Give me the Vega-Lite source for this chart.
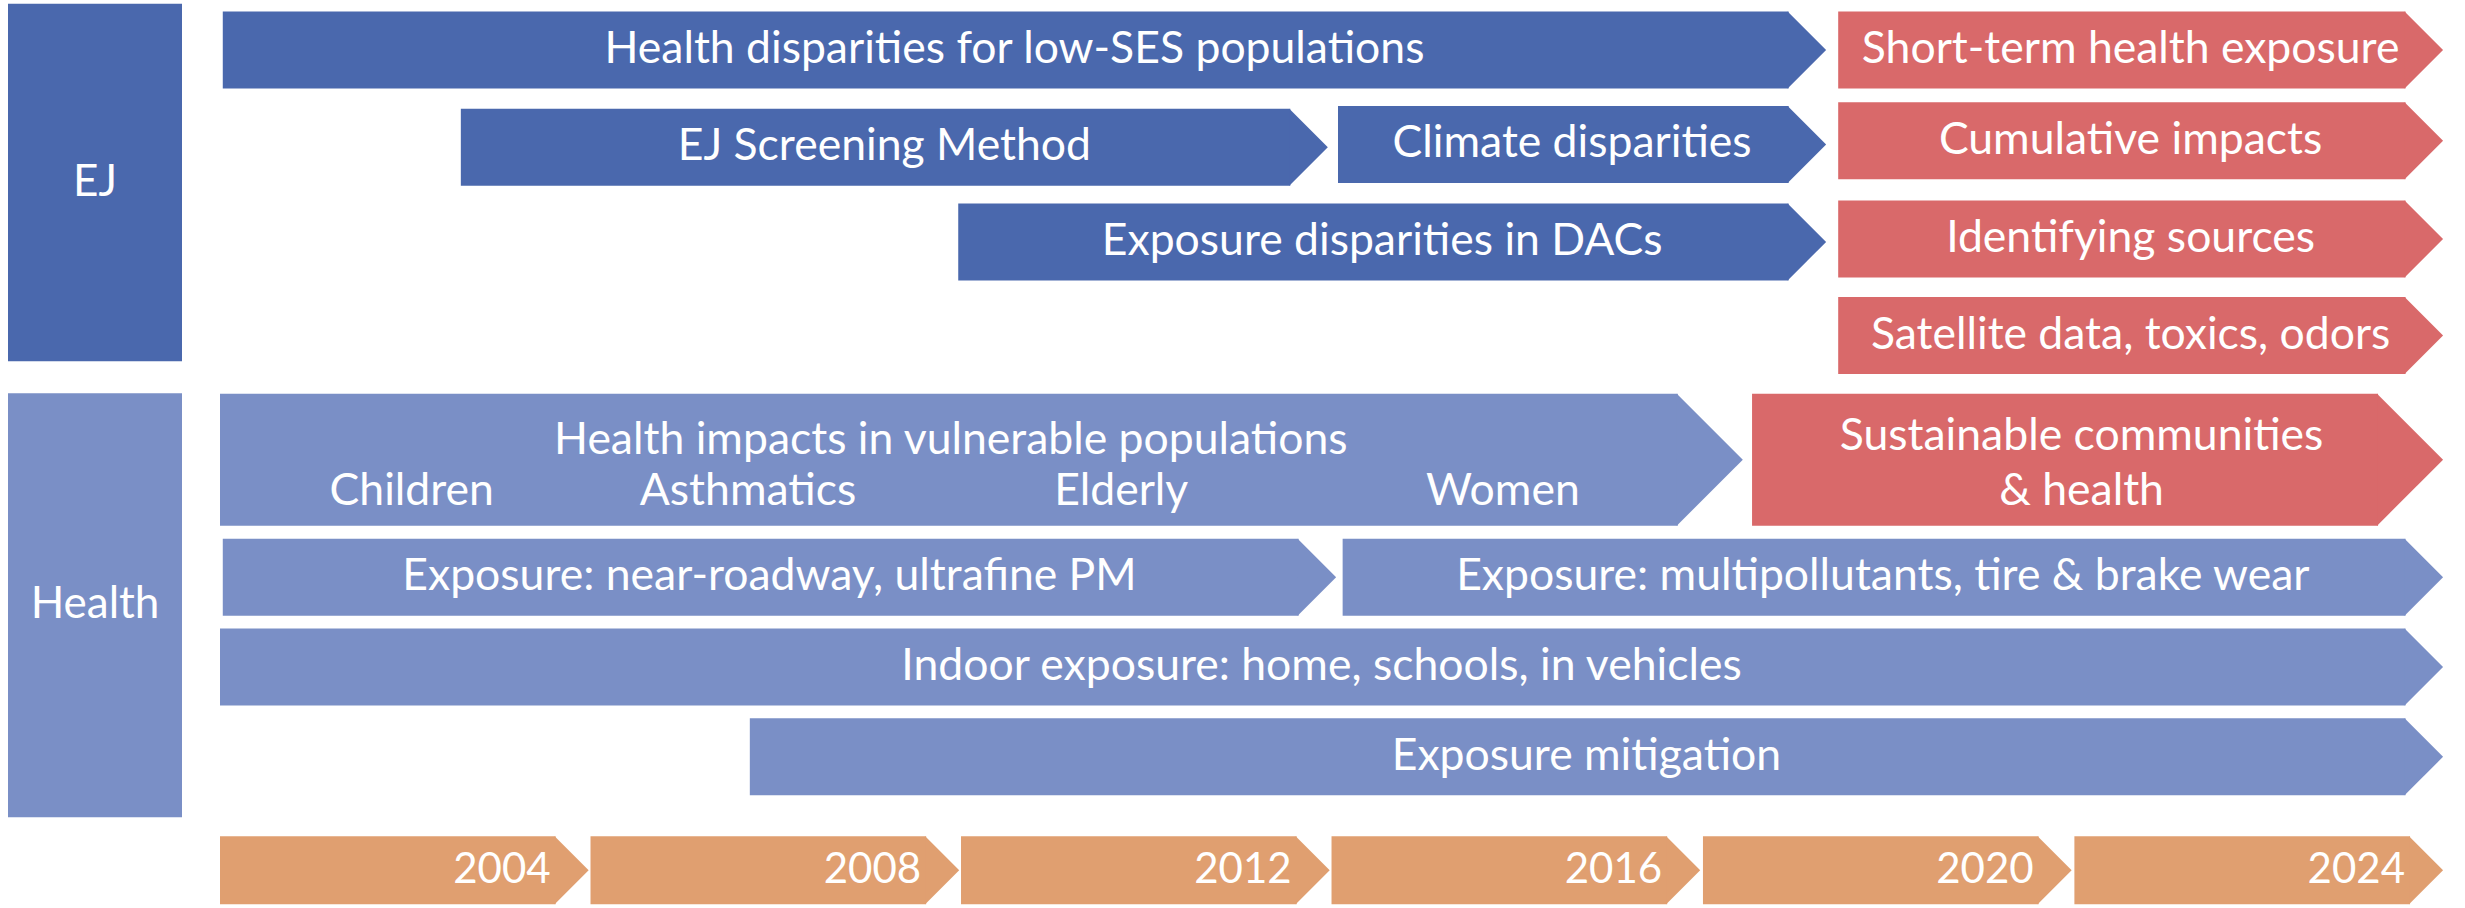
{
  "$schema": "https://vega.github.io/schema/vega-lite/v6.json",
  "padding": {"left": 8, "top": 0, "right": 0, "bottom": 0},
  "spacing": 38,
  "background": "white",
  "config": {
    "view": {"stroke": null},
    "text": {"font": "Lato", "fontSize": 44.5, "color": "white", "baseline": "middle", "align": "center"}
  },
  "datasets": {
    "tracks": [
      {"label": "EJ", "group": "EJ", "top": 0.04, "bottom": 3.74},
      {"label": "Health", "group": "Health", "top": 4.07, "bottom": 8.46}
    ],
    "arrows": [
      {"label": "Health disparities for low-SES populations", "group": "EJ", "span": 1, "start": 2000.03, "end": 2017.34, "lane": 0.47},
      {"label": "Short-term health exposure", "group": "Future", "span": 1, "start": 2017.47, "end": 2024.0, "lane": 0.47},
      {"label": "EJ Screening Method", "group": "EJ", "span": 1, "start": 2002.6, "end": 2011.96, "lane": 1.49},
      {"label": "Climate disparities", "group": "EJ", "span": 1, "start": 2012.07, "end": 2017.34, "lane": 1.46},
      {"label": "Cumulative impacts", "group": "Future", "span": 1, "start": 2017.47, "end": 2024.0, "lane": 1.42},
      {"label": "Exposure disparities in DACs", "group": "EJ", "span": 1, "start": 2007.97, "end": 2017.34, "lane": 2.48},
      {"label": "Identifying sources", "group": "Future", "span": 1, "start": 2017.47, "end": 2024.0, "lane": 2.45},
      {"label": "Satellite data, toxics, odors", "group": "Future", "span": 1, "start": 2017.47, "end": 2024.0, "lane": 3.46},
      {"label": "Health impacts in vulnerable populations", "group": "Health", "span": 2, "start": 2000.0, "end": 2016.44, "lane": 4.76},
      {"label": "Sustainable communities\n& health", "group": "Future", "span": 2, "start": 2016.54, "end": 2024.0, "lane": 4.76},
      {"label": "Exposure: near-roadway, ultrafine PM", "group": "Health", "span": 1, "start": 2000.03, "end": 2012.05, "lane": 5.99},
      {"label": "Exposure: multipollutants, tire & brake wear", "group": "Health", "span": 1, "start": 2012.12, "end": 2024.0, "lane": 5.99},
      {"label": "Indoor exposure: home, schools, in vehicles", "group": "Health", "span": 1, "start": 2000.0, "end": 2024.0, "lane": 6.93},
      {"label": "Exposure mitigation", "group": "Health", "span": 1, "start": 2005.72, "end": 2024.0, "lane": 7.87}
    ],
    "notes": [
      {"text": "Health impacts in vulnerable populations", "year": 2007.89, "lane": 4.56},
      {"text": "Children", "year": 2002.07, "lane": 5.1},
      {"text": "Asthmatics", "year": 2005.7, "lane": 5.1},
      {"text": "Elderly", "year": 2009.73, "lane": 5.1},
      {"text": "Women", "year": 2013.85, "lane": 5.1}
    ],
    "timeline": [
      {"label": "2004", "group": "Timeline", "start": 2000.0, "end": 2003.98, "lane": 9.058},
      {"label": "2008", "group": "Timeline", "start": 2004.0, "end": 2007.98, "lane": 9.058},
      {"label": "2012", "group": "Timeline", "start": 2008.0, "end": 2011.98, "lane": 9.058},
      {"label": "2016", "group": "Timeline", "start": 2012.0, "end": 2015.98, "lane": 9.058},
      {"label": "2020", "group": "Timeline", "start": 2016.01, "end": 2019.99, "lane": 9.058},
      {"label": "2024", "group": "Timeline", "start": 2020.02, "end": 2024.0, "lane": 9.058}
    ]
  },
  "hconcat": [
    {
      "width": 174,
      "height": 908,
      "data": {"name": "tracks"},
      "layer": [
        {
          "mark": {"type": "rect"},
          "encoding": {
            "y": {"field": "top", "type": "quantitative", "scale": {"domain": [0, 9.4], "reverse": true, "nice": false, "zero": false}, "axis": null},
            "y2": {"field": "bottom"},
            "color": {"field": "group", "type": "nominal", "scale": {"domain": ["EJ", "Health", "Future", "Timeline"], "range": ["#4A68AD", "#7A8FC6", "#D9696A", "#E09F70"]}, "legend": null}
          }
        },
        {
          "transform": [
            {"fold": ["top", "bottom"], "as": ["edge", "v"]},
            {"aggregate": [{"op": "mean", "field": "v", "as": "mid"}], "groupby": ["label"]}
          ],
          "mark": {"type": "text", "fontSize": 44},
          "encoding": {
            "y": {"field": "mid", "type": "quantitative", "scale": {"domain": [0, 9.4], "reverse": true, "nice": false, "zero": false}, "axis": null},
            "text": {"field": "label"}
          }
        }
      ]
    },
    {
      "width": 2245,
      "height": 908,
      "layer": [
        {
          "data": {"name": "arrows"},
          "transform": [{"filter": "datum.span == 1"}],
          "mark": {"type": "bar", "size": 77, "x2Offset": -37.5},
          "encoding": {
            "x": {"field": "start", "type": "quantitative", "scale": {"domain": [2000, 2024.237], "nice": false, "zero": false}, "axis": null},
            "x2": {"field": "end"},
            "y": {"field": "lane", "type": "quantitative", "scale": {"domain": [0, 9.4], "reverse": true, "nice": false, "zero": false}, "axis": null},
            "color": {"field": "group", "type": "nominal", "scale": {"domain": ["EJ", "Health", "Future", "Timeline"], "range": ["#4A68AD", "#7A8FC6", "#D9696A", "#E09F70"]}, "legend": null}
          }
        },
        {
          "data": {"name": "arrows"},
          "transform": [{"filter": "datum.span == 1"}],
          "mark": {"type": "point", "shape": "M-1,-1L0,0L-1,1Z", "size": 5929, "filled": true, "opacity": 1, "strokeWidth": 0},
          "encoding": {
            "x": {"field": "end", "type": "quantitative", "axis": null},
            "y": {"field": "lane", "type": "quantitative", "axis": null},
            "color": {"field": "group", "type": "nominal", "legend": null}
          }
        },
        {
          "data": {"name": "arrows"},
          "transform": [{"filter": "datum.span == 2"}],
          "mark": {"type": "bar", "size": 132, "x2Offset": -65},
          "encoding": {
            "x": {"field": "start", "type": "quantitative", "axis": null},
            "x2": {"field": "end"},
            "y": {"field": "lane", "type": "quantitative", "axis": null},
            "color": {"field": "group", "type": "nominal", "legend": null}
          }
        },
        {
          "data": {"name": "arrows"},
          "transform": [{"filter": "datum.span == 2"}],
          "mark": {"type": "point", "shape": "M-1,-1L0,0L-1,1Z", "size": 17424, "filled": true, "opacity": 1, "strokeWidth": 0},
          "encoding": {
            "x": {"field": "end", "type": "quantitative", "axis": null},
            "y": {"field": "lane", "type": "quantitative", "axis": null},
            "color": {"field": "group", "type": "nominal", "legend": null}
          }
        },
        {
          "data": {"name": "timeline"},
          "mark": {"type": "bar", "size": 68, "x2Offset": -33},
          "encoding": {
            "x": {"field": "start", "type": "quantitative", "axis": null},
            "x2": {"field": "end"},
            "y": {"field": "lane", "type": "quantitative", "axis": null},
            "color": {"field": "group", "type": "nominal", "legend": null}
          }
        },
        {
          "data": {"name": "timeline"},
          "mark": {"type": "point", "shape": "M-1,-1L0,0L-1,1Z", "size": 4624, "filled": true, "opacity": 1, "strokeWidth": 0},
          "encoding": {
            "x": {"field": "end", "type": "quantitative", "axis": null},
            "y": {"field": "lane", "type": "quantitative", "axis": null},
            "color": {"field": "group", "type": "nominal", "legend": null}
          }
        },
        {
          "data": {"name": "arrows"},
          "transform": [
            {"filter": "datum.span == 1"},
            {"fold": ["start", "end"], "as": ["edge", "v"]},
            {"aggregate": [{"op": "mean", "field": "v", "as": "center"}], "groupby": ["label", "lane"]}
          ],
          "mark": {"type": "text", "dx": -10},
          "encoding": {
            "x": {"field": "center", "type": "quantitative", "axis": null},
            "y": {"field": "lane", "type": "quantitative", "axis": null},
            "text": {"field": "label"}
          }
        },
        {
          "data": {"name": "arrows"},
          "transform": [
            {"filter": "datum.span == 2 && datum.group == 'Future'"},
            {"fold": ["start", "end"], "as": ["edge", "v"]},
            {"aggregate": [{"op": "mean", "field": "v", "as": "center"}], "groupby": ["label", "lane"]}
          ],
          "mark": {"type": "text", "dx": -16, "dy": -23, "lineBreak": "\n", "lineHeight": 55},
          "encoding": {
            "x": {"field": "center", "type": "quantitative", "axis": null},
            "y": {"field": "lane", "type": "quantitative", "axis": null},
            "text": {"field": "label"}
          }
        },
        {
          "data": {"name": "notes"},
          "mark": {"type": "text"},
          "encoding": {
            "x": {"field": "year", "type": "quantitative", "axis": null},
            "y": {"field": "lane", "type": "quantitative", "axis": null},
            "text": {"field": "text"}
          }
        },
        {
          "data": {"name": "timeline"},
          "mark": {"type": "text", "align": "right", "dx": -38, "fontSize": 42},
          "encoding": {
            "x": {"field": "end", "type": "quantitative", "axis": null},
            "y": {"field": "lane", "type": "quantitative", "axis": null},
            "text": {"field": "label"}
          }
        }
      ]
    }
  ]
}
